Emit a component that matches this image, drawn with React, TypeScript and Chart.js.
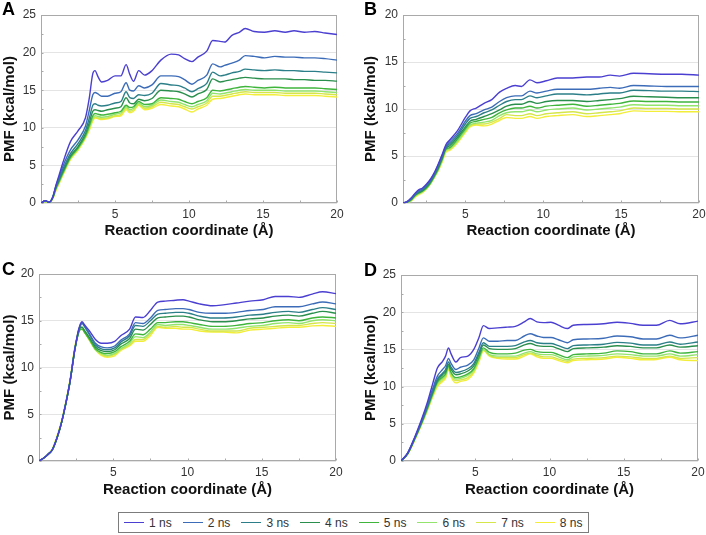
import React, { useEffect, useRef } from 'react';
import { Chart, registerables } from 'chart.js';

Chart.register(...registerables);
Chart.defaults.font.family = "'Liberation Sans', Arial, Helvetica, sans-serif";

const seriesLabels = ['1 ns', '2 ns', '3 ns', '4 ns', '5 ns', '6 ns', '7 ns', '8 ns'];
const seriesColors = ['#4a3fd0', '#3c6cb8', '#2c7f88', '#2a8f4c', '#3fb53c', '#92e46c', '#d4e64a', '#f2ee3a'];
const xTickValues = [5, 10, 15, 20];
const yTicksAD = [0, 5, 10, 15, 20, 25];
const yTicksBC = [0, 5, 10, 15, 20];

// ---------- Panel A ----------
const xA = [0, 0.3, 0.55, 0.8, 1, 1.25, 1.5, 2, 2.5, 3, 3.25, 3.5, 3.65, 3.85, 4.1, 4.5, 5, 5.4, 5.75, 6, 6.25, 6.6, 7, 7.5, 8.1, 8.8, 9.3, 9.7, 10.2, 10.6, 11.2, 11.6, 12.1, 12.4, 12.9, 13.4, 13.8, 14.4, 15.1, 15.8, 16.5, 17.1, 17.8, 18.5, 19.2, 20];
const a1ns = [0, 0.3, 0.1, 0.8, 2.3, 3.9, 5.5, 8.2, 9.6, 11.3, 13.8, 17.2, 17.6, 16.8, 16.1, 16.3, 16.9, 16.9, 18.4, 17.1, 16.2, 17.6, 17.0, 17.6, 19.0, 19.8, 19.7, 19.2, 18.8, 19.4, 20.2, 21.6, 21.5, 21.4, 22.3, 22.7, 23.2, 22.8, 22.7, 22.9, 22.7, 22.9, 22.7, 22.8, 22.6, 22.4];
const a2ns = [0, 0.3, 0.1, 0.8, 2.2, 3.6, 5.0, 7.1, 8.4, 10.2, 12.2, 14.4, 14.7, 14.5, 14.2, 14.2, 14.6, 14.8, 16.0, 15.0, 14.9, 15.6, 15.3, 15.7, 16.9, 16.9, 16.8, 16.4, 15.8, 16.3, 17.0, 18.5, 18.1, 18.3, 18.6, 19.0, 19.6, 19.5, 19.3, 19.5, 19.4, 19.4, 19.3, 19.3, 19.2, 19.0];
const a3ns = [0, 0.3, 0.1, 0.8, 2.1, 3.4, 4.6, 6.6, 7.9, 9.6, 11.2, 13.0, 13.2, 13.0, 12.9, 13.0, 13.3, 13.5, 14.8, 14.0, 13.9, 14.4, 14.3, 14.6, 15.9, 15.7, 15.6, 15.3, 14.8, 15.2, 15.9, 17.4, 16.9, 17.0, 17.3, 17.5, 17.8, 17.7, 17.6, 17.7, 17.6, 17.6, 17.5, 17.5, 17.4, 17.3];
const a4ns = [0, 0.3, 0.1, 0.8, 2.0, 3.2, 4.3, 6.3, 7.5, 9.2, 10.6, 12.2, 12.4, 12.3, 12.2, 12.4, 12.6, 12.8, 14.0, 13.3, 13.2, 13.8, 13.6, 13.9, 15.0, 14.9, 14.8, 14.5, 14.1, 14.5, 15.1, 16.5, 16.1, 16.2, 16.4, 16.6, 16.7, 16.6, 16.5, 16.5, 16.5, 16.4, 16.4, 16.3, 16.3, 16.2];
const a5ns = [0, 0.3, 0.1, 0.7, 1.9, 3.0, 4.1, 6.1, 7.3, 8.9, 10.2, 11.6, 11.9, 11.8, 11.7, 11.8, 12.0, 12.2, 13.0, 12.7, 12.8, 13.5, 13.1, 13.2, 14.0, 13.9, 13.8, 13.5, 13.2, 13.5, 14.0, 15.0, 14.9, 15.0, 15.2, 15.4, 15.5, 15.4, 15.3, 15.4, 15.3, 15.3, 15.3, 15.3, 15.2, 15.1];
const a6ns = [0, 0.2, 0.1, 0.7, 1.8, 2.9, 4.0, 6.0, 7.2, 8.8, 10.0, 11.3, 11.6, 11.5, 11.4, 11.5, 11.8, 12.0, 12.8, 12.4, 12.6, 13.3, 12.8, 13.0, 13.7, 13.5, 13.4, 13.1, 12.8, 13.1, 13.6, 14.6, 14.5, 14.6, 14.8, 15.0, 15.1, 15.0, 15.0, 15.0, 14.9, 14.9, 14.9, 14.9, 14.8, 14.7];
const a7ns = [0, 0.2, 0.1, 0.6, 1.7, 2.8, 3.9, 5.9, 7.1, 8.7, 9.8, 11.1, 11.4, 11.3, 11.2, 11.3, 11.6, 11.8, 12.6, 12.2, 12.4, 13.1, 12.6, 12.8, 13.4, 13.2, 13.1, 12.8, 12.5, 12.8, 13.3, 14.2, 14.2, 14.3, 14.5, 14.7, 14.8, 14.7, 14.7, 14.7, 14.6, 14.6, 14.6, 14.6, 14.5, 14.4];
const a8ns = [0, 0.2, 0.1, 0.6, 1.6, 2.7, 3.8, 5.8, 7.0, 8.6, 9.6, 10.9, 11.3, 11.2, 11.1, 11.2, 11.5, 11.6, 12.4, 12.0, 12.2, 13.0, 12.4, 12.6, 13.1, 12.9, 12.8, 12.5, 12.1, 12.5, 13.0, 13.8, 13.9, 14.0, 14.2, 14.4, 14.5, 14.4, 14.4, 14.4, 14.3, 14.3, 14.3, 14.3, 14.2, 14.1];

// ---------- Panel B ----------
const xB = [1, 1.25, 1.5, 1.75, 2, 2.25, 2.5, 2.75, 3, 3.25, 3.5, 3.75, 4, 4.5, 5, 5.3, 5.7, 6.2, 6.7, 7.2, 7.65, 8.2, 8.6, 9.15, 9.6, 10.2, 10.9, 11.9, 12.8, 13.6, 14.3, 14.9, 15.8, 16.8, 17.9, 18.9, 20];
const b1ns = [0, 0.15, 0.5, 1.0, 1.4, 1.6, 2.0, 2.5, 3.2, 4.1, 5.1, 6.2, 6.7, 7.7, 9.1, 9.8, 10.1, 10.6, 11.0, 11.8, 12.2, 12.5, 12.4, 13.1, 12.8, 13.0, 13.3, 13.3, 13.4, 13.4, 13.6, 13.5, 13.8, 13.75, 13.7, 13.7, 13.6];
const b2ns = [0, 0.12, 0.45, 0.9, 1.3, 1.5, 1.9, 2.4, 3.1, 4.0, 5.0, 6.0, 6.5, 7.4, 8.7, 9.3, 9.5, 9.9, 10.2, 10.8, 11.2, 11.4, 11.4, 11.9, 11.7, 11.9, 12.1, 12.1, 12.1, 12.2, 12.3, 12.2, 12.5, 12.45, 12.4, 12.4, 12.4];
const b3ns = [0, 0.1, 0.4, 0.85, 1.2, 1.4, 1.8, 2.3, 3.0, 3.9, 4.9, 5.9, 6.3, 7.2, 8.4, 9.0, 9.2, 9.6, 9.9, 10.4, 10.8, 11.0, 11.0, 11.4, 11.2, 11.4, 11.6, 11.6, 11.5, 11.6, 11.7, 11.7, 12.0, 11.95, 11.9, 11.9, 11.85];
const b4ns = [0, 0.1, 0.35, 0.8, 1.1, 1.3, 1.7, 2.2, 2.9, 3.7, 4.7, 5.8, 6.1, 7.0, 8.1, 8.7, 8.9, 9.2, 9.5, 9.9, 10.3, 10.5, 10.5, 10.8, 10.6, 10.8, 10.9, 10.9, 10.8, 10.9, 11.0, 11.1, 11.35, 11.3, 11.25, 11.2, 11.2];
const b5ns = [0, 0.08, 0.3, 0.75, 1.05, 1.25, 1.6, 2.1, 2.8, 3.6, 4.6, 5.7, 5.9, 6.8, 7.9, 8.5, 8.7, 8.9, 9.1, 9.6, 9.9, 10.1, 10.1, 10.3, 10.1, 10.3, 10.4, 10.5, 10.3, 10.4, 10.5, 10.6, 10.85, 10.8, 10.8, 10.75, 10.75];
const b6ns = [0, 0.07, 0.25, 0.7, 1.0, 1.2, 1.55, 2.05, 2.75, 3.5, 4.5, 5.6, 5.8, 6.6, 7.7, 8.3, 8.5, 8.6, 8.8, 9.3, 9.6, 9.7, 9.7, 9.9, 9.7, 9.9, 10.0, 10.1, 9.9, 10.0, 10.1, 10.2, 10.45, 10.4, 10.4, 10.35, 10.35];
const b7ns = [0, 0.06, 0.22, 0.65, 0.95, 1.15, 1.5, 2.0, 2.7, 3.45, 4.4, 5.5, 5.7, 6.5, 7.6, 8.2, 8.4, 8.4, 8.6, 9.0, 9.4, 9.3, 9.3, 9.5, 9.3, 9.5, 9.6, 9.7, 9.5, 9.6, 9.7, 9.8, 10.1, 10.05, 10.05, 10.0, 10.0];
const b8ns = [0, 0.05, 0.2, 0.6, 0.9, 1.1, 1.5, 2.0, 2.7, 3.4, 4.3, 5.4, 5.6, 6.4, 7.5, 8.1, 8.3, 8.2, 8.4, 8.8, 9.1, 9.0, 9.0, 9.2, 9.0, 9.2, 9.3, 9.4, 9.2, 9.3, 9.4, 9.5, 9.8, 9.75, 9.75, 9.7, 9.7];

// ---------- Panel C ----------
const xC = [0, 0.3, 0.6, 0.9, 1.2, 1.5, 1.8, 2.1, 2.4, 2.6, 2.75, 2.9, 3.05, 3.4, 3.8, 4.2, 4.6, 5.1, 5.5, 6.1, 6.5, 7.0, 7.5, 8.0, 8.5, 9.2, 9.7, 10.1, 10.8, 11.7, 12.4, 13.3, 14.2, 15.1, 15.9, 16.8, 17.5, 18.4, 19.1, 20];
const c1ns = [0, 0.3, 0.7, 1.2, 2.4, 4.0, 6.1, 8.6, 11.8, 13.6, 14.5, 14.9, 14.6, 13.9, 13.0, 12.6, 12.6, 12.8, 13.4, 14.1, 15.4, 15.35, 16.1, 17.0, 17.1, 17.2, 17.25, 17.1, 16.8, 16.6, 16.7, 16.9, 17.1, 17.25, 17.6, 17.6, 17.5, 17.85, 18.1, 17.9];
const c2ns = [0, 0.3, 0.7, 1.2, 2.4, 4.0, 6.1, 8.6, 11.8, 13.5, 14.4, 14.8, 14.5, 13.6, 12.6, 12.2, 12.1, 12.3, 12.9, 13.6, 14.8, 14.7, 15.3, 16.1, 16.2, 16.3, 16.3, 16.2, 15.9, 15.8, 15.8, 15.9, 16.1, 16.2, 16.5, 16.5, 16.5, 16.8, 17.0, 16.8];
const c3ns = [0, 0.3, 0.7, 1.2, 2.4, 4.0, 6.1, 8.6, 11.8, 13.4, 14.3, 14.7, 14.4, 13.5, 12.4, 12.0, 11.9, 12.1, 12.7, 13.4, 14.5, 14.4, 15.0, 15.7, 15.8, 15.9, 15.9, 15.8, 15.5, 15.3, 15.3, 15.4, 15.6, 15.7, 15.9, 16.0, 15.9, 16.2, 16.4, 16.2];
const c4ns = [0, 0.3, 0.7, 1.2, 2.4, 4.0, 6.1, 8.6, 11.8, 13.4, 14.2, 14.3, 14.0, 13.2, 12.2, 11.8, 11.7, 11.9, 12.5, 13.1, 14.1, 14.0, 14.6, 15.3, 15.4, 15.5, 15.5, 15.4, 15.1, 14.9, 14.9, 15.0, 15.2, 15.3, 15.5, 15.6, 15.5, 15.8, 16.0, 15.8];
const c5ns = [0, 0.3, 0.7, 1.2, 2.4, 4.0, 6.1, 8.6, 11.8, 13.3, 14.0, 14.1, 13.8, 13.0, 12.0, 11.6, 11.5, 11.7, 12.2, 12.8, 13.6, 13.5, 14.1, 14.8, 14.8, 14.9, 14.9, 14.8, 14.6, 14.4, 14.4, 14.5, 14.7, 14.8, 15.0, 15.1, 15.0, 15.3, 15.4, 15.3];
const c6ns = [0, 0.3, 0.7, 1.2, 2.4, 4.0, 6.1, 8.6, 11.9, 13.4, 14.2, 14.3, 13.9, 13.0, 11.9, 11.5, 11.3, 11.5, 12.0, 12.6, 13.3, 13.2, 13.8, 14.6, 14.5, 14.6, 14.6, 14.5, 14.3, 14.1, 14.1, 14.2, 14.4, 14.5, 14.7, 14.8, 14.7, 15.0, 15.1, 15.0];
const c7ns = [0, 0.3, 0.7, 1.2, 2.5, 4.1, 6.2, 8.7, 12.0, 13.5, 14.3, 14.3, 13.9, 12.9, 11.9, 11.4, 11.2, 11.4, 11.9, 12.4, 13.0, 13.0, 13.6, 14.4, 14.3, 14.4, 14.3, 14.3, 14.1, 13.9, 13.9, 13.9, 14.2, 14.3, 14.4, 14.5, 14.5, 14.7, 14.8, 14.7];
const c8ns = [0, 0.3, 0.7, 1.3, 2.6, 4.2, 6.3, 8.8, 12.1, 13.6, 14.4, 14.2, 13.8, 12.9, 11.9, 11.3, 11.1, 11.25, 11.8, 12.3, 12.8, 12.8, 13.4, 14.3, 14.2, 14.2, 14.1, 14.1, 13.9, 13.8, 13.8, 13.7, 14.0, 14.1, 14.2, 14.3, 14.3, 14.45, 14.5, 14.4];

// ---------- Panel D ----------
const xD = [0, 0.45, 0.9, 1.35, 1.8, 2.15, 2.45, 2.8, 3, 3.2, 3.35, 3.7, 4, 4.5, 4.9, 5.25, 5.55, 5.95, 6.5, 7.15, 7.7, 8.3, 8.7, 9.15, 9.6, 10.1, 10.6, 11.2, 11.6, 12.5, 13.65, 14.55, 15.45, 16.3, 17.2, 18.1, 18.8, 20];
const d1ns = [0, 1.1, 3.1, 5.4, 8.05, 10.5, 12.5, 13.4, 14.1, 15.2, 14.5, 13.3, 13.9, 14.1, 15.0, 16.6, 18.2, 17.8, 17.9, 18.0, 18.1, 18.7, 19.15, 18.7, 18.6, 18.65, 18.25, 17.8, 18.25, 18.35, 18.45, 18.65, 18.5, 18.25, 18.25, 18.9, 18.45, 18.8];
const d2ns = [0, 1.05, 3.0, 5.2, 7.7, 9.8, 11.4, 12.3, 12.8, 13.8, 13.2, 12.3, 12.6, 12.9, 13.6, 15.2, 16.55, 16.1, 16.1, 16.2, 16.2, 16.8, 17.1, 16.8, 16.6, 16.6, 16.3, 15.9, 16.3, 16.4, 16.5, 16.8, 16.7, 16.4, 16.4, 16.9, 16.55, 16.9];
const d3ns = [0, 1.0, 2.95, 5.1, 7.5, 9.5, 11.0, 11.8, 12.3, 13.3, 12.7, 11.9, 12.0, 12.4, 13.1, 14.6, 15.9, 15.4, 15.4, 15.4, 15.5, 16.0, 16.2, 15.9, 15.8, 15.8, 15.5, 15.1, 15.5, 15.6, 15.7, 15.95, 15.85, 15.6, 15.6, 16.0, 15.7, 16.0];
const d4ns = [0, 1.0, 2.9, 5.0, 7.4, 9.3, 10.8, 11.6, 12.0, 13.0, 12.4, 11.6, 11.7, 12.1, 12.8, 14.3, 15.6, 15.1, 15.0, 15.0, 15.1, 15.6, 15.8, 15.5, 15.4, 15.4, 15.1, 14.7, 15.1, 15.2, 15.3, 15.5, 15.4, 15.2, 15.2, 15.6, 15.3, 15.5];
const d5ns = [0, 1.0, 2.85, 4.9, 7.2, 9.1, 10.6, 11.3, 11.7, 12.8, 12.0, 11.2, 11.3, 11.7, 12.4, 13.9, 15.2, 14.6, 14.4, 14.4, 14.5, 14.9, 15.0, 14.7, 14.6, 14.6, 14.3, 13.9, 14.3, 14.4, 14.5, 14.8, 14.7, 14.4, 14.4, 14.8, 14.5, 14.7];
const d6ns = [0, 0.95, 2.8, 4.85, 7.1, 9.0, 10.4, 11.1, 11.5, 12.6, 11.8, 11.0, 11.1, 11.5, 12.2, 13.7, 15.0, 14.3, 14.1, 14.1, 14.1, 14.5, 14.7, 14.4, 14.3, 14.3, 14.0, 13.6, 14.0, 14.1, 14.2, 14.4, 14.3, 14.1, 14.1, 14.4, 14.1, 14.3];
const d7ns = [0, 0.95, 2.75, 4.8, 7.0, 8.8, 10.2, 10.9, 11.3, 12.5, 11.6, 10.8, 10.9, 11.2, 12.0, 13.5, 14.9, 14.2, 13.9, 13.9, 13.9, 14.3, 14.5, 14.2, 14.0, 14.0, 13.7, 13.4, 13.7, 13.8, 13.9, 14.1, 14.0, 13.8, 13.8, 14.1, 13.8, 13.9];
const d8ns = [0, 0.9, 2.7, 4.7, 6.9, 8.7, 10.0, 10.7, 11.1, 12.3, 11.4, 10.5, 10.7, 10.95, 11.8, 13.3, 14.85, 14.1, 13.8, 13.7, 13.7, 14.1, 14.4, 14.0, 13.8, 13.8, 13.5, 13.2, 13.5, 13.6, 13.7, 13.95, 13.8, 13.6, 13.65, 13.95, 13.6, 13.5];

type PanelCfg = {
  letter: string;
  xs: number[];
  series: number[][];
  xMin: number;
  yMax: number;
  yTicks: number[];
  left: number;
  top: number;
  w: number;
  h: number;
  padTop: number;
  padRight: number;
  yW: number;
  xH: number;
  yTitlePad: number;
  xTitlePad: number;
  letterLeft: number;
  letterTop: number;
};

const panels: PanelCfg[] = [
  { letter: 'A', xs: xA, series: [a1ns, a2ns, a3ns, a4ns, a5ns, a6ns, a7ns, a8ns], xMin: 0, yMax: 25, yTicks: yTicksAD,
    left: 0, top: 0, w: 353, h: 245, padTop: 15, padRight: 16, yW: 41, xH: 42, yTitlePad: 1, xTitlePad: 5, letterLeft: 2, letterTop: 0 },
  { letter: 'B', xs: xB, series: [b1ns, b2ns, b3ns, b4ns, b5ns, b6ns, b7ns, b8ns], xMin: 1, yMax: 20, yTicks: yTicksBC,
    left: 353, top: 0, w: 353, h: 245, padTop: 15, padRight: 7, yW: 50, xH: 42, yTitlePad: 9, xTitlePad: 5, letterLeft: 364, letterTop: 0 },
  { letter: 'C', xs: xC, series: [c1ns, c2ns, c3ns, c4ns, c5ns, c6ns, c7ns, c8ns], xMin: 0, yMax: 20, yTicks: yTicksBC,
    left: 0, top: 250, w: 353, h: 255, padTop: 24, padRight: 17, yW: 39, xH: 44, yTitlePad: 1, xTitlePad: 6, letterLeft: 2, letterTop: 260 },
  { letter: 'D', xs: xD, series: [d1ns, d2ns, d3ns, d4ns, d5ns, d6ns, d7ns, d8ns], xMin: 0, yMax: 25, yTicks: yTicksAD,
    left: 353, top: 250, w: 353, h: 255, padTop: 25, padRight: 8, yW: 48, xH: 44, yTitlePad: 9, xTitlePad: 6, letterLeft: 364, letterTop: 261 },
];

const framePlugin = {
  id: 'frameBox',
  beforeDatasetsDraw(chart: any) {
    const { ctx, chartArea } = chart;
    const l = Math.round(chartArea.left) + 0.5;
    const t = Math.round(chartArea.top) + 0.5;
    const r = Math.round(chartArea.right) - 0.5;
    const b = Math.round(chartArea.bottom) - 0.5;
    ctx.save();
    ctx.strokeStyle = '#a9a9a9';
    ctx.lineWidth = 1;
    ctx.strokeRect(l, t, r - l, b - t);
    // minor tick marks inside the frame
    const xs = chart.scales.x;
    const ys = chart.scales.y;
    ctx.beginPath();
    for (let v = Math.ceil(xs.min / 2.5) * 2.5; v <= xs.max; v += 2.5) {
      const px = Math.round(xs.getPixelForValue(v)) + 0.5;
      ctx.moveTo(px, b);
      ctx.lineTo(px, b - 2);
    }
    for (let v = 0; v <= ys.max; v += 2.5) {
      const py = Math.round(ys.getPixelForValue(v)) + 0.5;
      ctx.moveTo(l, py);
      ctx.lineTo(l + 2, py);
    }
    ctx.stroke();
    ctx.restore();
  },
};

function Panel({ cfg }: { cfg: PanelCfg }) {
  const ref = useRef<HTMLCanvasElement | null>(null);
  useEffect(() => {
    if (!ref.current) return;
    const datasets = cfg.series.map((ys, i) => ({
      label: seriesLabels[i],
      data: cfg.xs.map((x, j) => ({ x, y: ys[j] })),
      borderColor: seriesColors[i],
      backgroundColor: seriesColors[i],
      borderWidth: 1.4,
      pointRadius: 0,
      fill: false,
      cubicInterpolationMode: 'monotone' as const,
    }));
    const chart = new Chart(ref.current, {
      type: 'line',
      data: { datasets },
      options: {
        animation: false,
        responsive: false,
        devicePixelRatio: 1,
        events: [],
        layout: { padding: { left: 0, top: cfg.padTop, right: cfg.padRight, bottom: 0 } },
        plugins: { legend: { display: false }, tooltip: { enabled: false } },
        scales: {
          x: {
            type: 'linear',
            min: cfg.xMin,
            max: 20,
            grid: { display: false, drawTicks: false },
            border: { display: false },
            afterBuildTicks: (s: any) => {
              s.ticks = xTickValues.map((v) => ({ value: v }));
            },
            ticks: { padding: 4, color: '#333', font: { size: 12 }, maxRotation: 0, autoSkip: false },
            title: {
              display: true,
              text: 'Reaction coordinate (Å)',
              color: '#111',
              font: { size: 15, weight: 'bold' },
              padding: { top: 0, bottom: cfg.xTitlePad },
            },
            afterFit: (s: any) => {
              s.height = cfg.xH;
              s.paddingLeft = 0;
              s.paddingRight = 0;
            },
          },
          y: {
            type: 'linear',
            min: 0,
            max: cfg.yMax,
            grid: { color: '#e4e4e4', drawTicks: false },
            border: { display: false },
            afterBuildTicks: (s: any) => {
              s.ticks = cfg.yTicks.map((v) => ({ value: v }));
            },
            ticks: { padding: 5, color: '#333', font: { size: 12 } },
            title: {
              display: true,
              text: 'PMF (kcal/mol)',
              color: '#111',
              font: { size: 15, weight: 'bold' },
              padding: { top: cfg.yTitlePad, bottom: 0 },
            },
            afterFit: (s: any) => {
              s.width = cfg.yW;
              s.paddingTop = 0;
              s.paddingBottom = 0;
            },
          },
        },
      } as any,
      plugins: [framePlugin],
    });
    return () => chart.destroy();
  }, [cfg]);
  return (
    <canvas
      ref={ref}
      width={cfg.w}
      height={cfg.h}
      style={{ position: 'absolute', left: cfg.left, top: cfg.top, width: cfg.w, height: cfg.h }}
    />
  );
}

export default function App() {
  const font = "'Liberation Sans', Arial, Helvetica, sans-serif";
  return (
    <div style={{ position: 'absolute', left: 0, top: 0, width: 706, height: 535, background: '#fff', overflow: 'hidden', fontFamily: font }}>
      {panels.map((p) => (
        <Panel key={p.letter} cfg={p} />
      ))}
      {panels.map((p) => (
        <div
          key={'l' + p.letter}
          style={{ position: 'absolute', left: p.letterLeft, top: p.letterTop, fontSize: 18, lineHeight: '18px', fontWeight: 'bold', color: '#000' }}
        >
          {p.letter}
        </div>
      ))}
      <div
        style={{
          position: 'absolute',
          left: 118,
          top: 512,
          width: 471,
          height: 21,
          boxSizing: 'border-box',
          border: '1px solid #7c7c7c',
          display: 'flex',
          alignItems: 'center',
          paddingLeft: 5,
        }}
      >
        {seriesLabels.map((lab, i) => (
          <div key={lab} style={{ width: 58.7, display: 'flex', alignItems: 'center', flex: '0 0 auto' }}>
            <div style={{ width: 20, height: 1, background: seriesColors[i] }} />
            <span style={{ marginLeft: 5, fontSize: 12, color: '#333', lineHeight: '14px' }}>{lab}</span>
          </div>
        ))}
      </div>
    </div>
  );
}
